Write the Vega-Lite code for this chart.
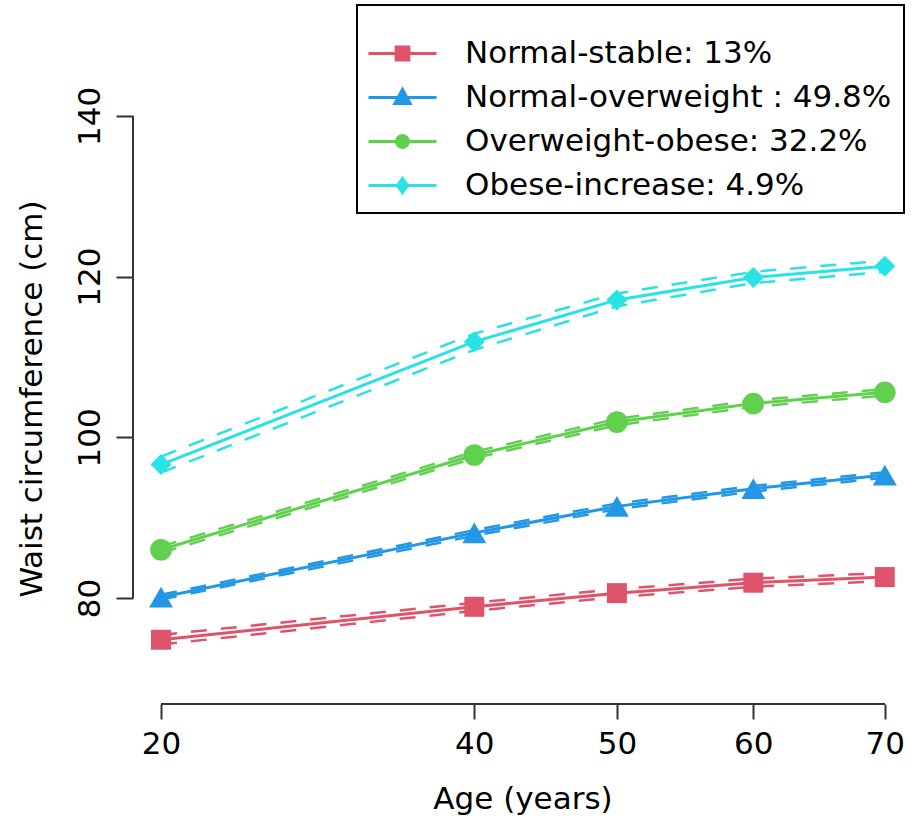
{
  "$schema": "https://vega.github.io/schema/vega-lite/v6.json",
  "width": 779,
  "height": 611,
  "autosize": {"type": "none"},
  "padding": {"left": 133, "top": 93, "right": 0, "bottom": 123},
  "background": "white",
  "config": {
    "view": {"stroke": null},
    "font": "DejaVu Sans",
    "legend": {
      "strokeColor": "black",
      "strokeWidth": 2,
      "fillColor": "white",
      "padding": 12,
      "labelFont": "DejaVu Sans",
      "labelFontSize": 31,
      "labelColor": "black",
      "labelLimit": 1000,
      "symbolSize": 1600,
      "symbolStrokeWidth": 3,
      "symbolOpacity": 1,
      "labelOffset": 53,
      "rowPadding": 7,
      "titleFontSize": 8,
      "titlePadding": 7
    }
  },
  "data": {
    "values": [
      {"group": "Normal-stable: 13%", "age": 20, "wc": 74.8, "lo": 74.2, "hi": 75.4},
      {"group": "Normal-stable: 13%", "age": 40, "wc": 78.9, "lo": 78.4, "hi": 79.4},
      {"group": "Normal-stable: 13%", "age": 50, "wc": 80.6, "lo": 80.1, "hi": 81.1},
      {"group": "Normal-stable: 13%", "age": 60, "wc": 81.9, "lo": 81.4, "hi": 82.4},
      {"group": "Normal-stable: 13%", "age": 70, "wc": 82.6, "lo": 82.1, "hi": 83.1},
      {"group": "Normal-overweight : 49.8%", "age": 20, "wc": 80.1, "lo": 79.8, "hi": 80.4},
      {"group": "Normal-overweight : 49.8%", "age": 40, "wc": 88.1, "lo": 87.75, "hi": 88.45},
      {"group": "Normal-overweight : 49.8%", "age": 50, "wc": 91.4, "lo": 91.05, "hi": 91.75},
      {"group": "Normal-overweight : 49.8%", "age": 60, "wc": 93.6, "lo": 93.25, "hi": 93.95},
      {"group": "Normal-overweight : 49.8%", "age": 70, "wc": 95.3, "lo": 94.95, "hi": 95.65},
      {"group": "Overweight-obese: 32.2%", "age": 20, "wc": 86.0, "lo": 85.6, "hi": 86.4},
      {"group": "Overweight-obese: 32.2%", "age": 40, "wc": 97.8, "lo": 97.4, "hi": 98.2},
      {"group": "Overweight-obese: 32.2%", "age": 50, "wc": 101.9, "lo": 101.5, "hi": 102.3},
      {"group": "Overweight-obese: 32.2%", "age": 60, "wc": 104.2, "lo": 103.8, "hi": 104.6},
      {"group": "Overweight-obese: 32.2%", "age": 70, "wc": 105.6, "lo": 105.2, "hi": 106.0},
      {"group": "Obese-increase: 4.9%", "age": 20, "wc": 96.6, "lo": 95.6, "hi": 97.6},
      {"group": "Obese-increase: 4.9%", "age": 40, "wc": 111.9, "lo": 110.9, "hi": 112.9},
      {"group": "Obese-increase: 4.9%", "age": 50, "wc": 117.1, "lo": 116.3, "hi": 117.9},
      {"group": "Obese-increase: 4.9%", "age": 60, "wc": 119.9, "lo": 119.2, "hi": 120.6},
      {"group": "Obese-increase: 4.9%", "age": 70, "wc": 121.3, "lo": 120.6, "hi": 122.0}
    ]
  },
  "encoding": {
    "x": {
      "field": "age",
      "type": "quantitative",
      "title": "Age (years)",
      "scale": {"type": "pow", "exponent": 0.78, "domain": [18.37, 72.11], "nice": false, "zero": false},
      "axis": {
        "values": [20, 40, 50, 60, 70],
        "domain": false,
        "grid": false,
        "tickSize": 15,
        "tickWidth": 2,
        "tickColor": "#333333",
        "labelFontSize": 31,
        "labelColor": "black",
        "labelPadding": 10,
        "labelBaseline": "top",
        "labelFlush": false,
        "labelOverlap": false,
        "titleFontSize": 31,
        "titleFontWeight": "normal",
        "titleColor": "black",
        "titlePadding": 25
      }
    },
    "y": {
      "field": "wc",
      "type": "quantitative",
      "title": "Waist circumference (cm)",
      "scale": {"domain": [66.8, 142.86], "nice": false, "zero": false},
      "axis": {
        "values": [80, 100, 120, 140],
        "domain": false,
        "grid": false,
        "tickSize": 17,
        "tickWidth": 2,
        "tickColor": "#333333",
        "labelFontSize": 31,
        "labelColor": "black",
        "labelAngle": 270,
        "labelAlign": "center",
        "labelBaseline": "alphabetic",
        "labelPadding": 17,
        "labelFlush": false,
        "labelOverlap": false,
        "titleFontSize": 31,
        "titleFontWeight": "normal",
        "titleColor": "black",
        "titlePadding": 26
      }
    },
    "color": {
      "field": "group",
      "type": "nominal",
      "legend": null,
      "scale": {
        "domain": ["Obese-increase: 4.9%", "Overweight-obese: 32.2%", "Normal-overweight : 49.8%", "Normal-stable: 13%"],
        "range": ["#28E2E5", "#61D04F", "#2297E6", "#DF536B"]
      }
    }
  },
  "layer": [
    {
      "mark": {"type": "line", "strokeWidth": 2.5, "strokeDash": [16, 14], "strokeCap": "butt"},
      "encoding": {"y": {"field": "hi", "type": "quantitative", "title": "Waist circumference (cm)"}}
    },
    {
      "mark": {"type": "line", "strokeWidth": 2.5, "strokeDash": [16, 14], "strokeCap": "butt"},
      "encoding": {"y": {"field": "lo", "type": "quantitative", "title": "Waist circumference (cm)"}}
    },
    {
      "mark": {"type": "line", "strokeWidth": 3}
    },
    {
      "transform": [{"filter": "datum.group == 'Normal-stable: 13%'"}],
      "mark": {"type": "point", "shape": "square", "filled": true, "size": 400, "opacity": 1, "strokeWidth": 0}
    },
    {
      "transform": [{"filter": "datum.group == 'Normal-overweight : 49.8%'"}],
      "mark": {"type": "point", "shape": "triangle-up", "filled": true, "size": 576, "opacity": 1, "strokeWidth": 0}
    },
    {
      "transform": [{"filter": "datum.group == 'Overweight-obese: 32.2%'"}],
      "mark": {"type": "point", "shape": "circle", "filled": true, "size": 470, "opacity": 1, "strokeWidth": 0}
    },
    {
      "transform": [{"filter": "datum.group == 'Obese-increase: 4.9%'"}],
      "mark": {"type": "point", "shape": "diamond", "filled": true, "size": 440, "opacity": 1, "strokeWidth": 0}
    },
    {
      "mark": {"type": "point", "size": 1600, "strokeWidth": 3, "opacity": 0},
      "encoding": {
        "color": null,
        "fill": {
          "field": "group", "type": "nominal",
          "legend": {"title": " ", "orient": "none", "legendX": 224, "legendY": -88},
          "scale": {
            "domain": ["Normal-stable: 13%", "Normal-overweight : 49.8%", "Overweight-obese: 32.2%", "Obese-increase: 4.9%"],
            "range": ["#DF536B", "#2297E6", "#61D04F", "#28E2E5"]
          }
        },
        "stroke": {
          "field": "group", "type": "nominal",
          "legend": {"title": " ", "orient": "none", "legendX": 224, "legendY": -88},
          "scale": {
            "domain": ["Normal-stable: 13%", "Normal-overweight : 49.8%", "Overweight-obese: 32.2%", "Obese-increase: 4.9%"],
            "range": ["#DF536B", "#2297E6", "#61D04F", "#28E2E5"]
          }
        },
        "shape": {
          "field": "group", "type": "nominal",
          "legend": {"title": " ", "orient": "none", "legendX": 224, "legendY": -88},
          "scale": {
            "domain": ["Normal-stable: 13%", "Normal-overweight : 49.8%", "Overweight-obese: 32.2%", "Obese-increase: 4.9%"],
            "range": [
              "M-1.1,0H2.3M0.28,-0.32H0.92V0.32H0.28Z",
              "M-1.1,0H2.3M0.6,-0.4L0.98,0.3H0.22Z",
              "M-1.1,0H2.3M0.9,0A0.3,0.3 0 1,1 0.3,0A0.3,0.3 0 1,1 0.9,0Z",
              "M-1.1,0H2.3M0.6,-0.36L0.85,0L0.6,0.36L0.35,0Z"
            ]
          }
        }
      }
    },
    {
      "mark": {"type": "rule", "color": "#333333", "strokeWidth": 2},
      "encoding": {
        "x": {"datum": 20, "type": "quantitative"},
        "x2": {"datum": 70},
        "y": {"datum": 66.8, "type": "quantitative"},
        "color": null
      }
    },
    {
      "mark": {"type": "rule", "color": "#333333", "strokeWidth": 2},
      "encoding": {
        "x": {"datum": 18.37, "type": "quantitative"},
        "y": {"datum": 80, "type": "quantitative"},
        "y2": {"datum": 140},
        "color": null
      }
    }
  ]
}
